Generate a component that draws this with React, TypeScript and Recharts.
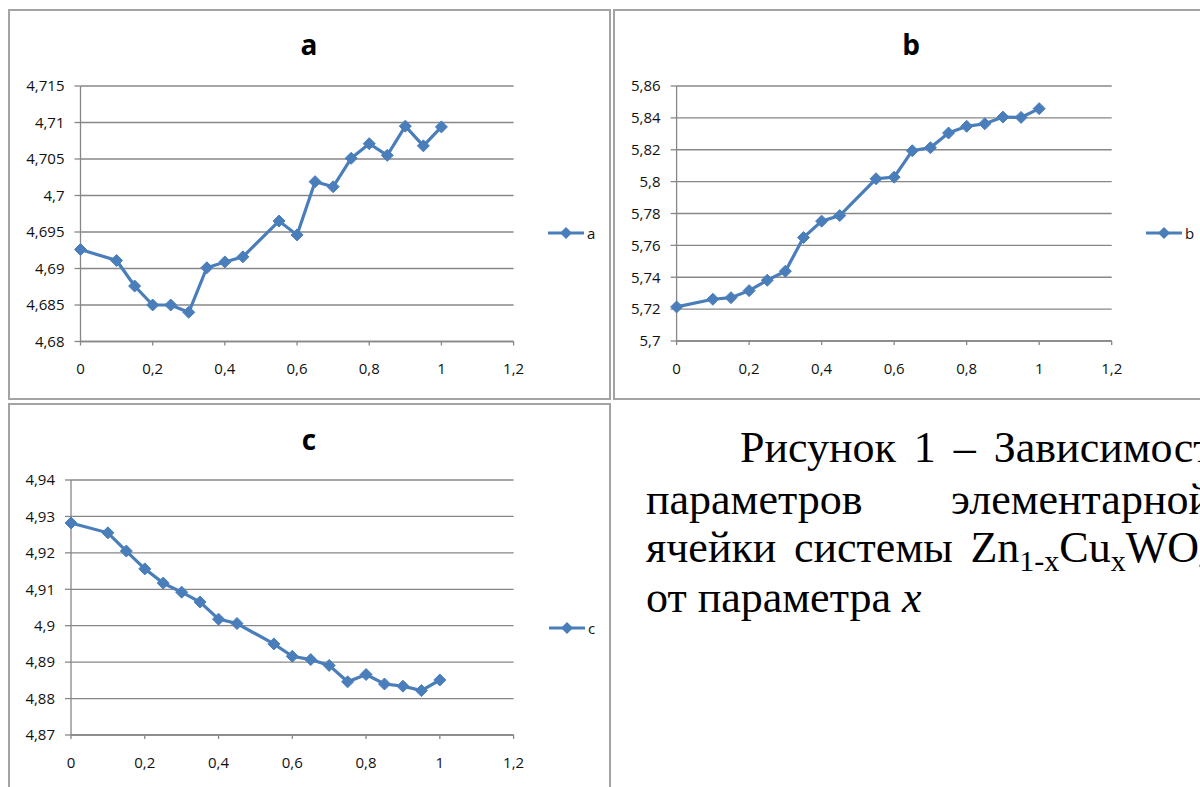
import React from 'react';
import { LineChart, Line, XAxis, YAxis, CartesianGrid } from 'recharts';

// x parameter (composition)
const X_VALUES = [0, 0.1, 0.15, 0.2, 0.25, 0.3, 0.35, 0.4, 0.45, 0.55, 0.6, 0.65, 0.7, 0.75, 0.8, 0.85, 0.9, 0.95, 1];
// lattice parameter a
const A_VALUES = [4.6926, 4.6911, 4.6876, 4.685, 4.685, 4.684, 4.6901, 4.6909, 4.6916, 4.6965, 4.6946, 4.7019, 4.7012, 4.7051, 4.7071, 4.7055, 4.7095, 4.7068, 4.7094];
// lattice parameter b
const B_VALUES = [5.7214, 5.7262, 5.7272, 5.7316, 5.7381, 5.7438, 5.7649, 5.7752, 5.7787, 5.8018, 5.8028, 5.8194, 5.8213, 5.8305, 5.8347, 5.8363, 5.8405, 5.8403, 5.8458];
// lattice parameter c
const C_VALUES = [4.9282, 4.9255, 4.9205, 4.9156, 4.9117, 4.9092, 4.9065, 4.9018, 4.9006, 4.895, 4.8916, 4.8907, 4.8891, 4.8846, 4.8866, 4.884, 4.8834, 4.8822, 4.8851];

const X_TICKS = [0, 0.2, 0.4, 0.6, 0.8, 1, 1.2];
const A_TICKS = [4.68, 4.685, 4.69, 4.695, 4.7, 4.705, 4.71, 4.715];
const B_TICKS = [5.7, 5.72, 5.74, 5.76, 5.78, 5.8, 5.82, 5.84, 5.86];
const C_TICKS = [4.87, 4.88, 4.89, 4.9, 4.91, 4.92, 4.93, 4.94];

const BLUE = '#4a7ebb';
const GRID = '#878787';
const BORDER = '#a3a3a3';
const TICK_FONT = { fill: '#111', fontSize: 15, fontFamily: 'Open Sans' };

const fmt = (v: number) => String(Math.round(v * 10000) / 10000).replace('.', ',');

function Diamond(props: any) {
  const { cx, cy, index } = props;
  if (cx == null || cy == null) return <g key={`e${index}`} />;
  const r = 6;
  return (
    <path
      key={`d${index}`}
      d={`M${cx},${cy - r}L${cx + r},${cy}L${cx},${cy + r}L${cx - r},${cy}Z`}
      fill={BLUE}
      stroke={BLUE}
      strokeWidth={1}
    />
  );
}

type PanelProps = {
  title: string;
  values: number[];
  ticks: number[];
  border: { left: number; top: number; width: number; height: number };
  chart: { left: number; top: number; width: number; height: number; margin: { top: number; right: number; bottom: number; left: number } };
  titlePos: { x: number; y: number };
  legendPos: { x: number; y: number };
};

function Panel({ title, values, ticks, border, chart, titlePos, legendPos }: PanelProps) {
  const data = X_VALUES.map((x, i) => ({ x, v: values[i] }));
  return (
    <>
      <div
        style={{
          position: 'absolute',
          left: border.left,
          top: border.top,
          width: border.width,
          height: border.height,
          border: `2px solid ${BORDER}`,
          boxSizing: 'border-box',
          background: '#fff',
        }}
      />
      <div
        style={{
          position: 'absolute',
          left: titlePos.x - 50,
          top: titlePos.y - 20,
          width: 100,
          height: 36,
          lineHeight: '36px',
          textAlign: 'center',
          fontFamily: 'Open Sans',
          fontWeight: 'bold',
          fontSize: 28,
          color: '#000',
        }}
      >
        {title}
      </div>
      <div style={{ position: 'absolute', left: chart.left, top: chart.top }}>
        <LineChart width={chart.width} height={chart.height} data={data} margin={chart.margin}>
          <CartesianGrid horizontal vertical={false} stroke={GRID} strokeWidth={1.3} />
          <XAxis
            dataKey="x"
            type="number"
            domain={[0, 1.2]}
            ticks={X_TICKS}
            tickFormatter={fmt}
            stroke={GRID}
            strokeWidth={1.3}
            tickSize={4}
            tickMargin={18}
            height={30}
            tick={TICK_FONT}
            interval={0}
          />
          <YAxis
            type="number"
            domain={[ticks[0], ticks[ticks.length - 1]]}
            ticks={ticks}
            tickFormatter={fmt}
            stroke={GRID}
            strokeWidth={1.3}
            tickSize={6}
            tickMargin={10}
            width={60}
            tick={TICK_FONT}
            interval={0}
            allowDataOverflow
          />
          <Line
            dataKey="v"
            stroke={BLUE}
            strokeWidth={3.2}
            dot={Diamond}
            activeDot={false}
            isAnimationActive={false}
          />
        </LineChart>
      </div>
      <svg
        style={{ position: 'absolute', left: legendPos.x, top: legendPos.y - 12 }}
        width={60}
        height={24}
      >
        <line x1={0} y1={12} x2={36} y2={12} stroke={BLUE} strokeWidth={3.2} />
        <path d="M18,6L24,12L18,18L12,12Z" fill={BLUE} />
        <text x={39} y={17.5} fontFamily="Open Sans" fontSize={15} fill="#111">
          {title}
        </text>
      </svg>
    </>
  );
}

const CAPTION_SIZE = 44;

function CapLine({ left, top, right, children }: { left: number; top: number; right?: number; children: React.ReactNode }) {
  return (
    <div
      style={{
        position: 'absolute',
        left,
        top,
        width: right ? right - left : undefined,
        height: CAPTION_SIZE,
        lineHeight: `${CAPTION_SIZE}px`,
        fontFamily: 'Liberation Serif',
        fontSize: CAPTION_SIZE,
        color: '#000',
        display: 'flex',
        justifyContent: right ? 'space-between' : 'flex-start',
        whiteSpace: 'pre',
      }}
    >
      {children}
    </div>
  );
}

const subStyle: React.CSSProperties = { fontSize: 30, position: 'relative', top: 9 };

function Caption() {
  return (
    <>
      <CapLine left={740} top={426} right={1236}>
        <span>Рисунок</span>
        <span>1</span>
        <span>–</span>
        <span>Зависимости</span>
      </CapLine>
      <CapLine left={646} top={478} right={1212}>
        <span>параметров</span>
        <span>элементарной</span>
      </CapLine>
      <CapLine left={646} top={526} right={1214}>
        <span>ячейки</span>
        <span>системы</span>
        <span>
          Zn<span style={subStyle}>1-x</span>Cu<span style={subStyle}>x</span>WO<span style={subStyle}>4</span>
        </span>
      </CapLine>
      <CapLine left={646} top={576}>
        <span>от параметра </span>
        <span style={{ fontStyle: 'italic' }}>x</span>
      </CapLine>
    </>
  );
}

export default function App() {
  return (
    <div
      style={{
        position: 'absolute',
        left: 0,
        top: 0,
        width: 1200,
        height: 787,
        overflow: 'hidden',
        background: '#fff',
      }}
    >
      <Caption />
      <Panel
        title="a"
        values={A_VALUES}
        ticks={A_TICKS}
        border={{ left: 8, top: 9, width: 603, height: 391 }}
        chart={{ left: 8, top: 10, width: 603, height: 390, margin: { top: 76, right: 97.4, bottom: 28.5, left: 12.5 } }}
        titlePos={{ x: 309, y: 46 }}
        legendPos={{ x: 548, y: 233 }}
      />
      <Panel
        title="b"
        values={B_VALUES}
        ticks={B_TICKS}
        border={{ left: 613, top: 9, width: 600, height: 391 }}
        chart={{ left: 614, top: 10, width: 594, height: 390, margin: { top: 76, right: 96.3, bottom: 29, left: 2.6 } }}
        titlePos={{ x: 911, y: 46 }}
        legendPos={{ x: 1146, y: 233 }}
      />
      <Panel
        title="c"
        values={C_VALUES}
        ticks={C_TICKS}
        border={{ left: 8, top: 403, width: 603, height: 400 }}
        chart={{ left: 9, top: 404, width: 601, height: 383, margin: { top: 76, right: 96.4, bottom: 22, left: 2 } }}
        titlePos={{ x: 309, y: 441 }}
        legendPos={{ x: 549, y: 628 }}
      />
    </div>
  );
}
